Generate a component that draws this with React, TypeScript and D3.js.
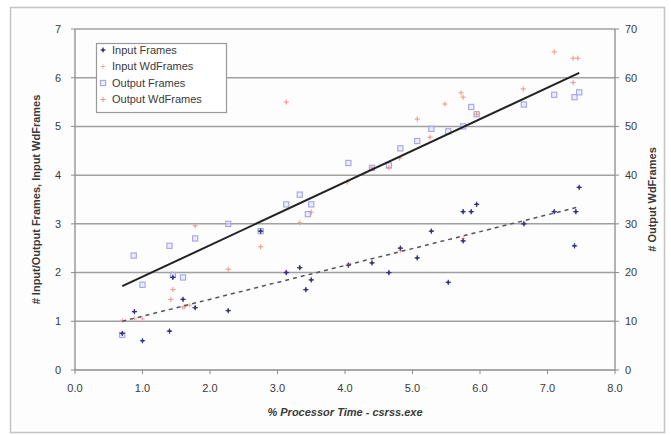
import React from 'react';
import * as d3 from 'd3';

// % Processor Time - csrss.exe
const inputFramesX = [0.7, 0.88, 1.0, 1.4, 1.45, 1.6, 1.78, 2.27, 2.75, 3.13, 3.33, 3.42, 3.5, 4.05, 4.4, 4.65, 4.82, 5.07, 5.28, 5.53, 5.75, 5.75, 5.87, 5.95, 6.65, 7.1, 7.4, 7.42, 7.47];
const inputFrames = [0.75, 1.2, 0.6, 0.8, 1.9, 1.45, 1.28, 1.22, 2.85, 2.0, 2.1, 1.65, 1.85, 2.15, 2.2, 2.0, 2.5, 2.3, 2.85, 1.8, 2.65, 3.25, 3.25, 3.4, 3.0, 3.25, 2.55, 3.25, 3.75];

const inputWdX = [0.7, 0.88, 1.0, 1.6, 1.7, 3.13, 4.05, 4.82, 5.75, 6.65];
const inputWd = [1.02, 1.05, 1.05, 1.28, 1.33, 2.02, 2.18, 2.45, 2.7, 3.02];

const outputFramesX = [0.7, 0.87, 1.0, 1.4, 1.45, 1.6, 1.78, 2.27, 2.75, 3.13, 3.33, 3.45, 3.5, 4.05, 4.4, 4.65, 4.82, 5.07, 5.28, 5.53, 5.75, 5.87, 5.95, 6.65, 7.1, 7.4, 7.47];
const outputFrames = [0.72, 2.35, 1.75, 2.55, 1.95, 1.9, 2.7, 3.0, 2.85, 3.4, 3.6, 3.2, 3.4, 4.25, 4.15, 4.2, 4.55, 4.7, 4.95, 4.9, 5.0, 5.4, 5.25, 5.45, 5.65, 5.6, 5.7];

const outputWdX = [1.42, 1.45, 1.62, 1.78, 2.27, 2.75, 3.13, 3.33, 3.5, 4.03, 4.4, 4.65, 4.81, 5.07, 5.26, 5.48, 5.72, 5.75, 5.95, 6.64, 7.1, 7.38, 7.38, 7.45];
const outputWd = [14.5, 16.5, 13, 29.6, 20.7, 25.3, 55, 30.2, 32.4, 38.6, 41.5, 41.5, 43.5, 51.5, 47.8, 54.6, 56.9, 56, 52.5, 57.7, 65.3, 64, 59, 64];

// trend line end points (left axis)
const trendX = [0.7, 7.47];
const outputTrend = [1.72, 6.1];
const inputTrend = [1.0, 3.35];

const xTicks = [0, 1, 2, 3, 4, 5, 6, 7, 8];
const leftTicks = [0, 1, 2, 3, 4, 5, 6, 7];
const rightTicks = [0, 10, 20, 30, 40, 50, 60, 70];
const legendLabels = ['Input Frames', 'Input WdFrames', 'Output Frames', 'Output WdFrames'];

const W = 671;
const H = 435;
const font = '"Liberation Sans", Arial, sans-serif';

const App = () => {
  const x = d3.scaleLinear().domain([0, 8]).range([75, 615]);
  const y = d3.scaleLinear().domain([0, 7]).range([370, 29]);
  const y2 = d3.scaleLinear().domain([0, 70]).range([370, 29]);
  const line = d3.line<[number, number]>().x(d => x(d[0])).y(d => y(d[1]));

  const plus = (cx: number, cy: number, s: number) =>
    `M${cx - s},${cy}H${cx + s}M${cx},${cy - s}V${cy + s}`;

  const navy = '#35357f';
  const lightBlue = '#a4a4ea';
  const pink = '#f2aaaa';
  const salmon = '#ec9688';
  const textCol = '#3a3a3a';

  const drawInput = (cx: number, cy: number, k: string) => (
    <g key={k}>
      <path d={plus(cx, cy, 2.6)} stroke={navy} strokeWidth={1.2} />
      <rect x={cx - 1.3} y={cy - 1.3} width={2.6} height={2.6} fill={navy} transform={`rotate(45 ${cx} ${cy})`} />
    </g>
  );
  const drawOutput = (cx: number, cy: number, k: string) => (
    <rect key={k} x={cx - 2.6} y={cy - 2.6} width={5.2} height={5.2} fill="#dcdcf8" fillOpacity={0.5} stroke={lightBlue} strokeWidth={1.1} />
  );
  const drawInputWd = (cx: number, cy: number, k: string) => (
    <path key={k} d={plus(cx, cy, 2.3)} stroke={pink} strokeWidth={1} />
  );
  const drawOutputWd = (cx: number, cy: number, k: string) => (
    <path key={k} d={plus(cx, cy, 2.6)} stroke={salmon} strokeWidth={1} />
  );

  return (
    <svg width={W} height={H} style={{ position: 'absolute', left: 0, top: 0 }} fontFamily={font}>
      <rect x={0} y={0} width={W} height={H} fill="#fff" />
      <rect x={10.5} y={7.5} width={654} height={425} fill="#fdfdfd" stroke="#c4c4c4" strokeWidth={1.5} />

      {leftTicks.slice(1).map(t => (
        <line key={`g${t}`} x1={x(0)} x2={x(8)} y1={y(t)} y2={y(t)} stroke="#a0a0a0" strokeWidth={1.5} />
      ))}

      {/* axes */}
      <line x1={x(0)} x2={x(0)} y1={y(7)} y2={y(0)} stroke="#8c8c8c" strokeWidth={1.3} />
      <line x1={x(8)} x2={x(8)} y1={y(7)} y2={y(0)} stroke="#8c8c8c" strokeWidth={1.3} />
      <line x1={x(0)} x2={x(8)} y1={y(0)} y2={y(0)} stroke="#8c8c8c" strokeWidth={1.3} />

      {leftTicks.map(t => (
        <g key={`l${t}`}>
          <line x1={x(0) - 4} x2={x(0)} y1={y(t)} y2={y(t)} stroke="#8c8c8c" />
          <text x={58} y={y(t)} dy="0.35em" textAnchor="middle" fontSize={11} fill={textCol}>{t}</text>
        </g>
      ))}
      {rightTicks.map(t => (
        <g key={`r${t}`}>
          <line x1={x(8)} x2={x(8) + 4} y1={y2(t)} y2={y2(t)} stroke="#8c8c8c" />
          <text x={625} y={y2(t)} dy="0.35em" textAnchor="start" fontSize={11} fill={textCol}>{t}</text>
        </g>
      ))}
      {xTicks.map(t => (
        <g key={`x${t}`}>
          <line x1={x(t)} x2={x(t)} y1={y(0)} y2={y(0) + 4} stroke="#8c8c8c" />
          <text x={x(t)} y={392} textAnchor="middle" fontSize={11} fill={textCol}>{t.toFixed(1)}</text>
        </g>
      ))}

      <text x={345} y={416} textAnchor="middle" fontSize={11} fontWeight="bold" fontStyle="italic" fill={textCol}>
        % Processor Time - csrss.exe
      </text>
      <text transform={`translate(40,${y(3.5)}) rotate(-90)`} textAnchor="middle" fontSize={11} fontWeight="bold" fill={textCol}>
        # Input/Output Frames, Input WdFrames
      </text>
      <text transform={`translate(656,${y(3.5)}) rotate(-90)`} textAnchor="middle" fontSize={11} fontWeight="bold" fill={textCol}>
        # Output WdFrames
      </text>

      {/* points */}
      {outputFramesX.map((v, i) => drawOutput(x(v), y(outputFrames[i]), `of${i}`))}
      {outputWdX.map((v, i) => drawOutputWd(x(v), y2(outputWd[i]), `ow${i}`))}
      {inputWdX.map((v, i) => drawInputWd(x(v), y(inputWd[i]), `iw${i}`))}
      {inputFramesX.map((v, i) => drawInput(x(v), y(inputFrames[i]), `if${i}`))}

      {/* trend lines */}
      <path d={line(trendX.map((v, i) => [v, outputTrend[i]]) as [number, number][]) || ''} fill="none" stroke="#222" strokeWidth={2} />
      <path d={line(trendX.map((v, i) => [v, inputTrend[i]]) as [number, number][]) || ''} fill="none" stroke="#555" strokeWidth={1.5} strokeDasharray="4,4" />

      {/* legend */}
      <rect x={96.5} y={43.5} width={130} height={69} fill="#fff" stroke="#999" strokeWidth={1.2} />
      {legendLabels.map((lab, i) => {
        const cy = 50 + i * 16.5;
        const mk = [drawInput, drawInputWd, drawOutput, drawOutputWd][i];
        return (
          <g key={lab}>
            {mk(103, cy, `lm${i}`)}
            <text x={112} y={cy} dy="0.35em" fontSize={11} fill={textCol}>{lab}</text>
          </g>
        );
      })}
    </svg>
  );
};

export default App;
